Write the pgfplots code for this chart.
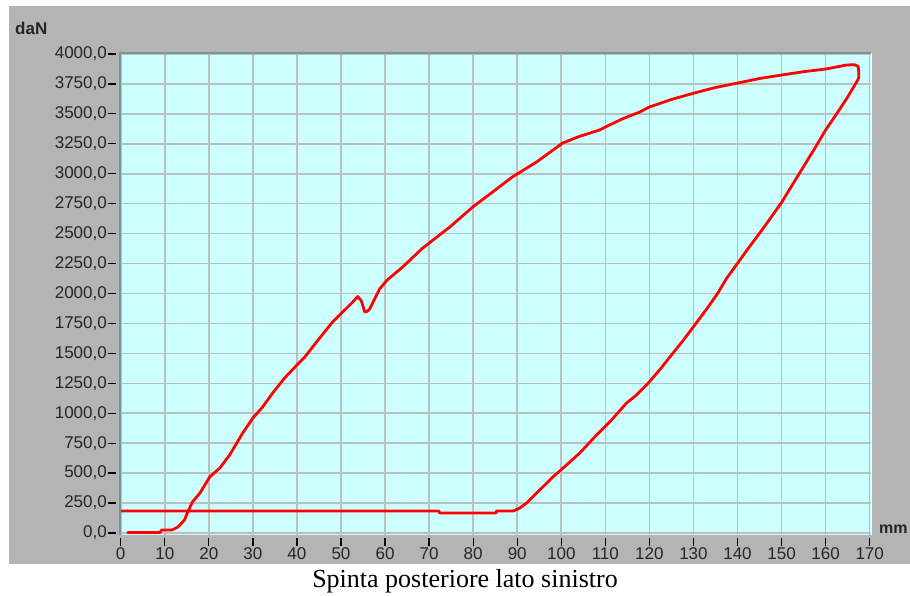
\documentclass[border=0pt]{standalone}
\usepackage{fontspec}
\setmainfont{Liberation Sans}
\newfontfamily\timesfont{Liberation Serif}
\usepackage{pgfplots}
\pgfplotsset{compat=1.18}
\definecolor{bggray}{RGB}{180,180,180}
\definecolor{plotbg}{RGB}{204,255,255}
\definecolor{gridc}{RGB}{186,192,192}
\definecolor{edgec}{RGB}{120,150,150}
\begin{document}
\begin{tikzpicture}[x=1pt,y=1pt]
\fill[white] (0,0) rectangle (910,-596);
\fill[bggray] (9,-6) rectangle (910,-564);
\begin{axis}[
  at={(120pt,-535pt)}, anchor=south west,
  scale only axis, width=751pt, height=482pt,
  xmin=-0.16, xmax=170.3, ymin=-16.7, ymax=4008,
  axis background/.style={fill=plotbg},
  axis line style={draw=none},
  grid=major, major grid style={gridc, line width=1.6pt},
  xtick={0,10,...,170}, ytick={0,250,...,4000},
  xtick pos=bottom, ytick pos=left,
  tick align=outside,
  major tick length=8pt,
  xtick style={black, line width=1.3pt, yshift=-3pt},
  ytick style={black, line width=1.3pt, xshift=-4pt},
  tick label style={font=\fontsize{17}{20}\selectfont, text=black!85},
  xticklabel style={yshift=-3pt, inner sep=1pt},
  yticklabel style={xshift=-4pt, inner sep=1pt,
     /pgf/number format/.cd, fixed, fixed zerofill, precision=1, use comma, 1000 sep={}},
  /pgf/number format/assume math mode=true,
  clip=true,
]
\addplot[red, line width=2.8pt, line join=round, line cap=round] coordinates {
(1.6,5) (8.9,5) (9.3,25) (11.6,25) (13,50) (14.5,110) (15.2,175) (16.3,260) (18,334)
(20.2,468) (22.5,543) (24.7,650) (27.7,835) (30,960) (32.2,1052) (34.5,1169) (37.2,1294)
(40,1403) (41.8,1470) (45.2,1630) (48.1,1762) (49.7,1820) (52.7,1930) (53.8,1975)
(54.6,1940) (55.4,1845) (55.9,1850) (56.5,1870) (58.8,2040) (60.5,2113) (64,2221)
(68.4,2375) (74.7,2555) (79.9,2722) (84.4,2847) (88.9,2973) (94.4,3098) (100.3,3256)
(104,3310) (108.7,3365) (110,3390) (114,3460) (117.8,3515) (120,3557) (125,3620)
(130.2,3674) (135,3720) (140,3757) (145,3795) (150,3824) (155,3852) (160,3874)
(164.8,3908) (166.6,3910) (167.4,3895) (167.5,3860) (167.5,3800)
(167.3,3783) (165,3640) (162.5,3500) (160,3365) (157.5,3210) (155,3060) (152.5,2910)
(150,2760) (147.5,2630) (145,2502) (142.5,2380) (140,2252) (137.5,2125) (135.5,2001)
(133,1870) (130.3,1737) (127.5,1600) (125,1486) (122.5,1370) (119.7,1250) (117,1150)
(114.8,1085) (111,927) (108,818) (104.2,668) (101.2,568) (98.1,468) (95.1,359)
(92.1,250) (90.6,209) (89.5,190) (89,184) (85.3,184) (85.2,167) (72.4,167) (72.2,184)
(71.7,184) (0,184)
};
\end{axis}
\draw[edgec, line width=2pt] (120,-535) -- (120,-53) -- (871,-53);
\draw[white, line width=1pt] (871.5,-53) -- (871.5,-535);
\node[font=\bfseries\fontsize{17}{20}\selectfont, anchor=base west, inner sep=0pt, text=black!85] at (15,-35) {daN};
\node[font=\bfseries\fontsize{16}{20}\selectfont, anchor=base west, inner sep=0pt, text=black!85] at (879,-533) {mm};
\node[font=\timesfont\fontsize{26}{30}\selectfont, anchor=base, inner sep=0pt] at (465,-587) {Spinta posteriore lato sinistro};
\pgfresetboundingbox
\useasboundingbox (0,0) rectangle (910,-596);
\end{tikzpicture}
\end{document}
